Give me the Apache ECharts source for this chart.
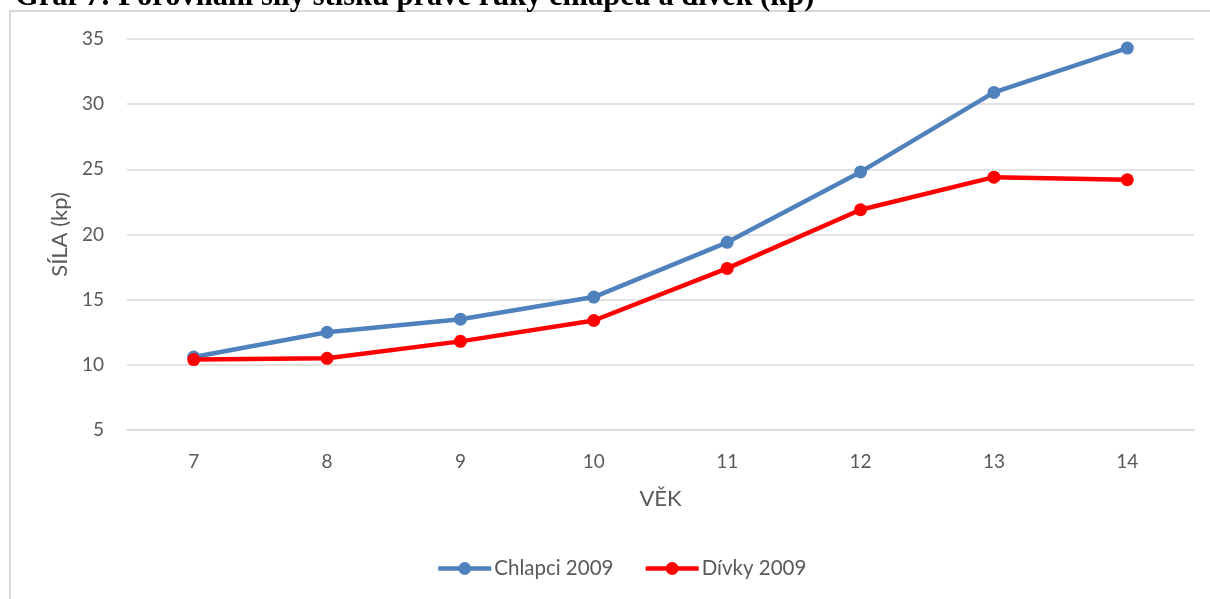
<!DOCTYPE html>
<html>
<head>
<meta charset="utf-8">
<script src="https://cdn.jsdelivr.net/npm/echarts@6/dist/echarts.min.js"></script>
<style>
  html, body { margin: 0; padding: 0; background: #fff; }
  #chart { width: 1210px; height: 599px; }
</style>
</head>
<body>
<div id="chart"></div>
<script>
// Věk (roky) a síla stisku pravé ruky (kp)
const ages = ['7', '8', '9', '10', '11', '12', '13', '14'];
const boys2009 = [10.6, 12.5, 13.5, 15.2, 19.4, 24.8, 30.9, 34.3];
const girls2009 = [10.4, 10.5, 11.8, 13.4, 17.4, 21.9, 24.4, 24.2];
const seriesNames = ['Chlapci 2009', 'Dívky 2009'];
const titleText = 'Graf 7: Porovnání síly stisku pravé ruky chlapců a dívek (kp)';

const FONT = 'Lato, "Open Sans", sans-serif';
const TEXT_COLOR = '#595959';
const GRID_COLOR = '#d9d9d9';

const chart = echarts.init(document.getElementById('chart'), null, { renderer: 'canvas' });

chart.setOption({
  backgroundColor: '#ffffff',
  animation: false,
  textStyle: { fontFamily: FONT },
  graphic: [
    {
      type: 'rect',
      silent: true,
      shape: { x: 10, y: 11, width: 1400, height: 800 },
      style: { fill: null, stroke: GRID_COLOR, lineWidth: 2 }
    },
    {
      type: 'text',
      silent: true,
      x: 15,
      y: 13,
      style: {
        text: titleText,
        font: 'bold 30.5px "Liberation Serif", "Times New Roman", serif',
        fill: '#000000',
        verticalAlign: 'bottom'
      }
    }
  ],
  grid: { left: 127, right: 16, top: 39, bottom: 169, containLabel: false },
  legend: {
    bottom: 15,
    left: 431,
    itemWidth: 53,
    itemHeight: 16,
    itemGap: 30,
    lineStyle: { width: 4.5 },
    textStyle: { color: TEXT_COLOR, fontSize: 20.5, fontFamily: FONT, padding: [0, 0, 0, -2] },
    data: seriesNames
  },
  xAxis: {
    type: 'category',
    data: ages,
    boundaryGap: true,
    name: 'VĚK',
    nameLocation: 'middle',
    nameGap: 58,
    nameTextStyle: { color: TEXT_COLOR, fontSize: 22, fontFamily: FONT },
    axisLine: { show: true, lineStyle: { color: GRID_COLOR, width: 1.5 } },
    axisTick: { show: false },
    axisLabel: { color: TEXT_COLOR, fontSize: 19, margin: 22, fontFamily: FONT },
    splitLine: { show: false }
  },
  yAxis: {
    type: 'value',
    min: 5,
    max: 35,
    interval: 5,
    name: 'SÍLA (kp)',
    nameLocation: 'middle',
    nameGap: 56,
    nameRotate: 90,
    nameTextStyle: { color: TEXT_COLOR, fontSize: 22, fontFamily: FONT },
    axisLine: { show: false },
    axisTick: { show: false },
    axisLabel: { color: TEXT_COLOR, fontSize: 19, margin: 23, fontFamily: FONT },
    splitLine: { show: true, lineStyle: { color: GRID_COLOR, width: 1.5 } }
  },
  series: [
    {
      name: seriesNames[0],
      type: 'line',
      data: boys2009,
      color: '#4f81bd',
      symbol: 'circle',
      symbolSize: 13,
      lineStyle: { width: 4.5, color: '#4f81bd' },
      itemStyle: { color: '#4f81bd' },
      z: 2
    },
    {
      name: seriesNames[1],
      type: 'line',
      data: girls2009,
      color: '#ff0000',
      symbol: 'circle',
      symbolSize: 13,
      lineStyle: { width: 4.5, color: '#ff0000' },
      itemStyle: { color: '#ff0000' },
      z: 3
    }
  ]
});
</script>
</body>
</html>
